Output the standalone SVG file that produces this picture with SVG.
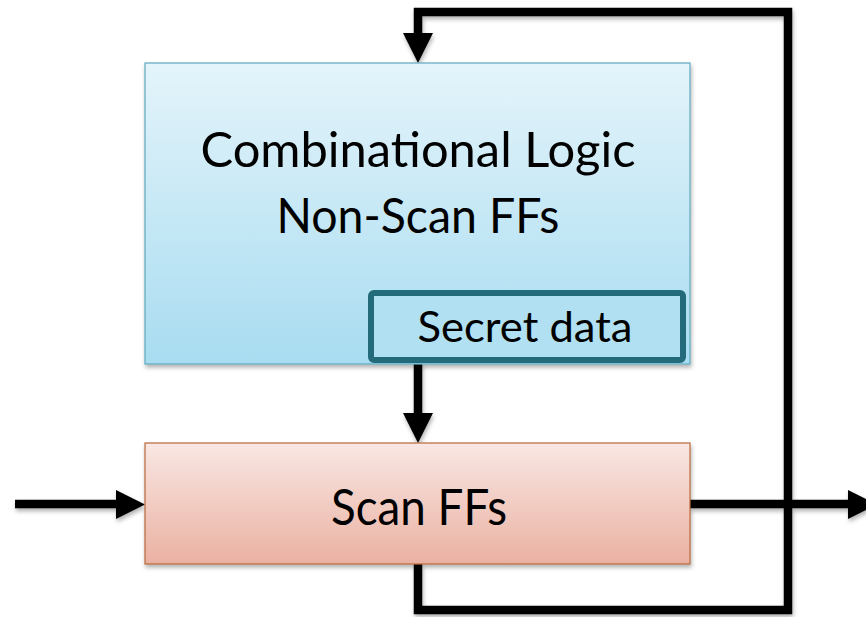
<svg xmlns="http://www.w3.org/2000/svg" width="866" height="617" viewBox="0 0 866 617">
<defs>
<linearGradient id="gBlue" x1="0" y1="0" x2="0" y2="1"><stop offset="0" stop-color="#e4f4fb"/><stop offset="1" stop-color="#a8dcf0"/></linearGradient>
<linearGradient id="gRed" x1="0" y1="0" x2="0" y2="1"><stop offset="0" stop-color="#f9e7e3"/><stop offset="1" stop-color="#eab1a2"/></linearGradient>
<filter id="sh" x="-10%" y="-10%" width="120%" height="130%"><feDropShadow dx="1" dy="3" stdDeviation="2" flood-color="#000" flood-opacity="0.3"/></filter>
<style>
.t{font-family:Lato,"Open Sans","Liberation Sans",sans-serif;fill:#000;text-anchor:middle}
.ln{fill:none;stroke:#000;stroke-width:8.5;stroke-linejoin:miter}
.hd{fill:#000}
</style>
</defs>
<g id="connectors" filter="url(#sh)">
<path class="ln" d="M418,564 L418,610 L788,610 L788,12 L418,12 L418,36"/>
<polygon class="hd" points="403,33 433,33 418,63"/>
<path class="ln" d="M418,362 L418,416"/>
<polygon class="hd" points="403,413 433,413 418,443"/>
<path class="ln" d="M15,504 L118,504"/>
<polygon class="hd" points="116,490 116,519 145,504.5"/>
<path class="ln" d="M690,504 L850,504"/>
<polygon class="hd" points="848,490 848,519 877,504.5"/>
</g>
<g id="comb">
<rect x="145" y="63" width="545" height="301" fill="url(#gBlue)" stroke="#5fa9bd" stroke-width="1.2" filter="url(#sh)"/>
<text class="t" x="418" y="167" font-size="48" textLength="435" lengthAdjust="spacingAndGlyphs">Combinational Logic</text>
<text class="t" x="418" y="233" font-size="48" textLength="283" lengthAdjust="spacingAndGlyphs">Non-Scan FFs</text>
</g>
<g id="secret">
<rect x="371" y="293" width="312" height="67" rx="3" fill="#b0e0f2" stroke="#236b7a" stroke-width="6"/>
<text class="t" x="525" y="342" font-size="43" textLength="215" lengthAdjust="spacingAndGlyphs">Secret data</text>
</g>
<g id="scan">
<rect x="145" y="443" width="545" height="121" fill="url(#gRed)" stroke="#b8683a" stroke-width="1.2" filter="url(#sh)"/>
<text class="t" x="419" y="525" font-size="50" textLength="176" lengthAdjust="spacingAndGlyphs">Scan FFs</text>
</g>
</svg>
